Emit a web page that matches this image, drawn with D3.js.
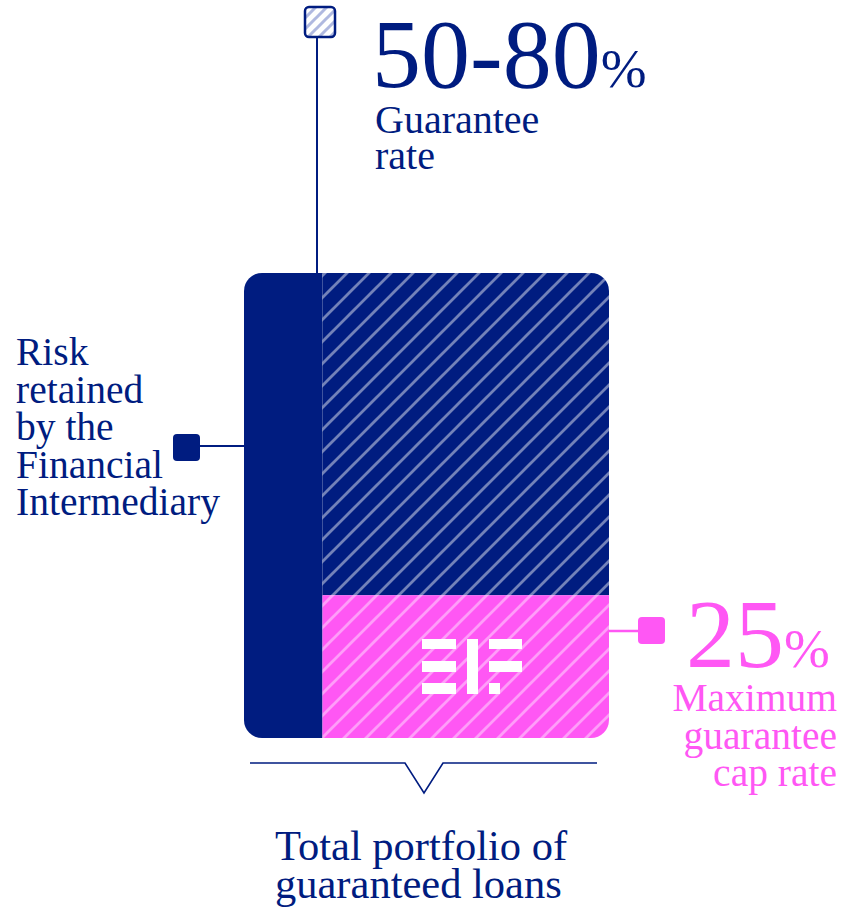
<!DOCTYPE html>
<html><head><meta charset="utf-8">
<script src="https://cdn.jsdelivr.net/npm/d3@7"></script>
<style>html,body{margin:0;padding:0;background:#fff}svg{display:block}</style>
</head><body><div id="chart"></div>
<script>
// ---- data ----
const segments = ["Risk retained by the Financial Intermediary", "Guarantee rate", "Maximum guarantee cap rate"];
const retainedShare = 21.5;      // % of card width kept by the intermediary
const guaranteeRange = [50, 80]; // guarantee rate label
const capRate = 25;              // cap rate label
const capBandHeight = 30.7;      // % of card height shown as cap band
const labelLeft = ["Risk", "retained", "by the", "Financial", "Intermediary"];
const labelTop = ["Guarantee", "rate"];
const labelRight = ["Maximum", "guarantee", "cap rate"];
const labelBottom = ["Total portfolio of", "guaranteed loans"];

const NAVY = "#001c80", PINK = "#ff57f4";
const W = 846, H = 918;
const svg = d3.select("#chart").append("svg").attr("width", W).attr("height", H);
const FONT = "'Liberation Serif','Times New Roman',serif";

const x = d3.scaleLinear().domain([0, 100]).range([244, 609]);
const y = d3.scaleLinear().domain([0, 100]).range([738, 273]);

const defs = svg.append("defs");
function hatch(id, bg, stroke, op, size, sw, ox, oy) {
  const p = defs.append("pattern").attr("id", id).attr("patternUnits", "userSpaceOnUse")
    .attr("width", size).attr("height", size).attr("x", ox).attr("y", oy);
  if (bg) p.append("rect").attr("width", size).attr("height", size).attr("fill", bg);
  const h = size / 2;
  p.append("path").attr("d", `M${-h},${h} L${h},${-h} M0,${size} L${size},0 M${h},${size + h} L${size + h},${h}`)
    .attr("stroke", stroke).attr("stroke-opacity", op).attr("stroke-width", sw).attr("fill", "none");
}
hatch("hNavy", NAVY, "#fff", 0.45, 22, 2.8, 325 - 22 * 15, 273);
hatch("hPink", PINK, "#fff", 0.42, 22, 2.8, 325 - 22 * 15, 273);
hatch("hLight", "#fff", "#b0b9e0", 1, 11, 3, 305, 7);

const clip = defs.append("clipPath").attr("id", "card");
clip.append("rect").attr("x", x(0)).attr("y", y(100)).attr("width", x(100) - x(0))
  .attr("height", y(0) - y(100)).attr("rx", 18);

const g = svg.append("g").attr("clip-path", "url(#card)");
g.append("rect").attr("x", x(0)).attr("y", y(100)).attr("width", x(retainedShare) - x(0))
  .attr("height", y(0) - y(100)).attr("fill", NAVY);
g.append("rect").attr("x", x(retainedShare)).attr("y", y(100)).attr("width", x(100) - x(retainedShare))
  .attr("height", y(capBandHeight) - y(100)).attr("fill", "url(#hNavy)");
g.append("rect").attr("x", x(retainedShare)).attr("y", y(capBandHeight)).attr("width", x(100) - x(retainedShare))
  .attr("height", y(0) - y(capBandHeight)).attr("fill", "url(#hPink)");

// EIF logo
const lg = svg.append("g").attr("fill", "#fff");
[[422, 639, 34, 10], [422, 661, 34, 11], [422, 683, 34, 11],
 [467, 639, 11, 55],
 [489, 639, 33, 10], [489, 661, 33, 11], [489, 683, 11, 11]]
  .forEach(r => lg.append("rect").attr("x", r[0]).attr("y", r[1]).attr("width", r[2]).attr("height", r[3]));

// top marker
const tx = 317;
svg.append("line").attr("x1", tx).attr("x2", tx).attr("y1", 38).attr("y2", y(100))
  .attr("stroke", NAVY).attr("stroke-width", 2);
svg.append("rect").attr("x", 305).attr("y", 7).attr("width", 30).attr("height", 30).attr("rx", 4)
  .attr("fill", "url(#hLight)").attr("stroke", NAVY).attr("stroke-width", 2.5);

// left marker
svg.append("line").attr("x1", 195).attr("x2", x(0)).attr("y1", 446).attr("y2", 446)
  .attr("stroke", NAVY).attr("stroke-width", 2);
svg.append("rect").attr("x", 173).attr("y", 434).attr("width", 27).attr("height", 27).attr("rx", 4).attr("fill", NAVY);

// right marker
svg.append("line").attr("x1", x(100)).attr("x2", 645).attr("y1", 631).attr("y2", 631)
  .attr("stroke", PINK).attr("stroke-width", 2.5);
svg.append("rect").attr("x", 638).attr("y", 617).attr("width", 27).attr("height", 27).attr("rx", 4).attr("fill", PINK);

// bracket
svg.append("path").attr("d", "M250,763 L405,763 L424,793 L443,763 L597,763")
  .attr("fill", "none").attr("stroke", NAVY).attr("stroke-width", 1.6);

// texts
function lines(arr, x0, y0, lh, size, color, anchor) {
  const t = svg.append("text").attr("font-family", FONT).attr("font-size", size).attr("fill", color)
    .attr("text-anchor", anchor || "start");
  arr.forEach((s, i) => t.append("tspan").attr("x", x0).attr("y", y0 + i * lh).text(s));
}
const big = svg.append("text").attr("x", 372).attr("y", 87).attr("font-family", FONT).attr("fill", NAVY);
big.append("tspan").attr("font-size", 98).text(guaranteeRange.join("-"));
big.append("tspan").attr("font-size", 55).text("%");
lines(labelTop, 375, 133, 36, 40, NAVY);

lines(labelLeft, 16, 365, 37.5, 39.5, NAVY);

const big2 = svg.append("text").attr("x", 686).attr("y", 667).attr("font-family", FONT).attr("fill", PINK);
big2.append("tspan").attr("font-size", 98).text(capRate);
big2.append("tspan").attr("font-size", 55).text("%");
lines(labelRight, 837, 711, 37.5, 39.5, PINK, "end");

lines(labelBottom, 275, 860, 38, 42.5, NAVY);
</script></body></html>
